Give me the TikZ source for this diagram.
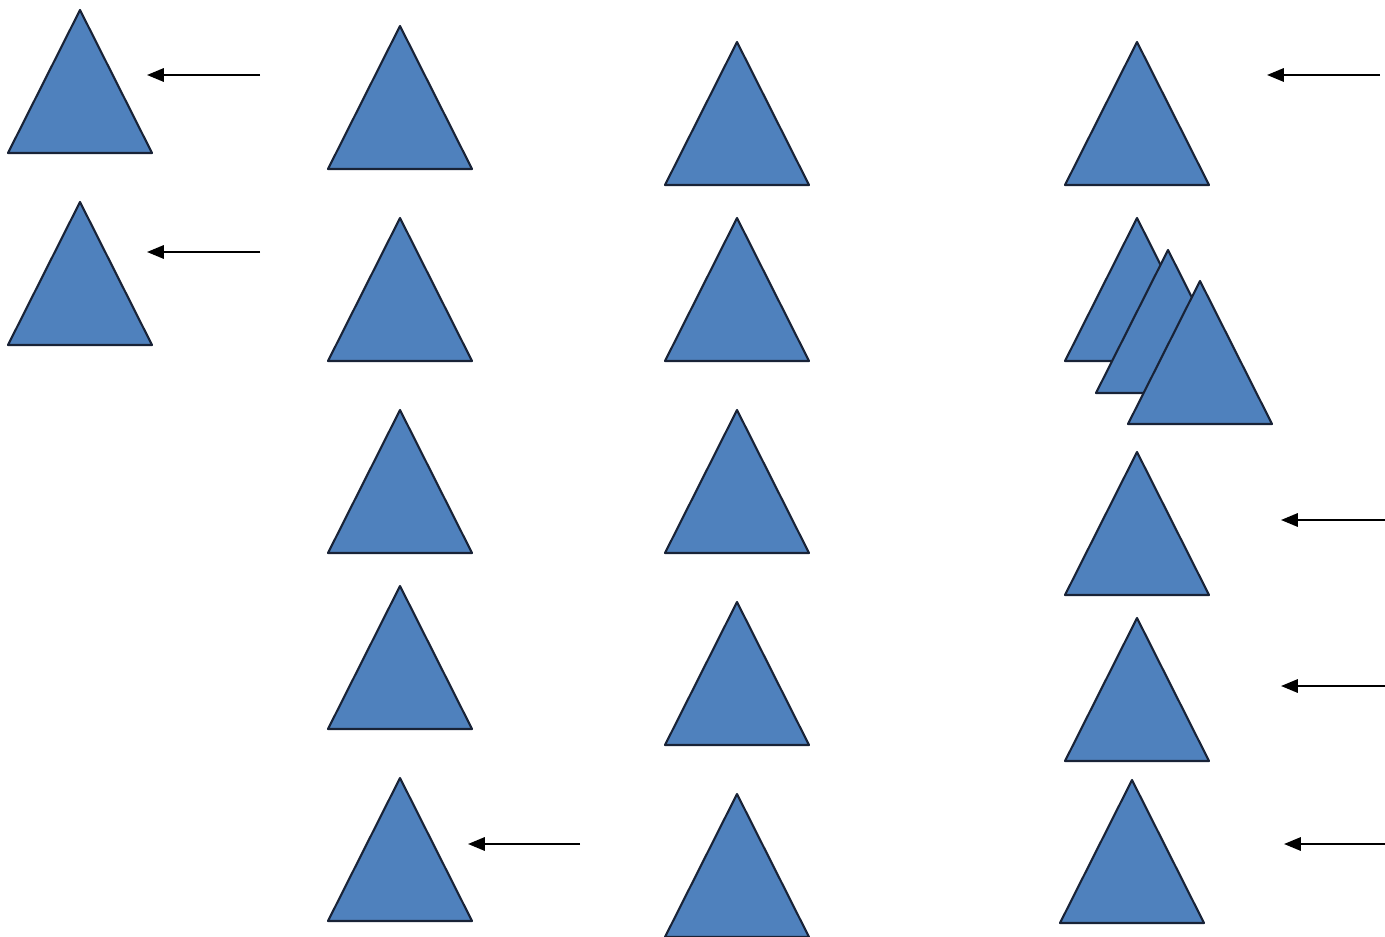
\documentclass[tikz,border=0pt]{standalone}
\usetikzlibrary{arrows.meta}
\definecolor{triblue}{RGB}{79,129,189}
\definecolor{triedge}{RGB}{25,35,55}
\tikzset{
  tri/.style={fill=triblue,draw=triedge,line width=0.6pt,line join=round},
  pointer/.style={-{Triangle[length=4.8pt,width=3.8pt]},line width=0.6pt,black}
}
% apex at (#1,#2), pixel units
\newcommand\triat[2]{\draw[tri] (#1,#2) -- ++(72,143) -- ++(-144,0) -- cycle;}
\begin{document}
\begin{tikzpicture}[x=0.01cm,y=-0.01cm]
    \useasboundingbox (0,0) rectangle (1385,937);

    % first column
    \foreach \ay in {10,202} {\triat{80}{\ay}}
    \draw[pointer] (260,75) -- (147,75);
    \draw[pointer] (260,252) -- (147,252);

    % second column
    \foreach \ay in {26,218,410,586,778} {\triat{400}{\ay}}
    \draw[pointer] (580,844) -- (468,844);

    % third column
    \foreach \ay in {42,218,410,602,794} {\triat{737}{\ay}}

    % fourth column
    \triat{1137}{42}
    \triat{1137}{218}
    \triat{1168}{250}
    \triat{1200}{281}
    \triat{1137}{452}
    \triat{1137}{618}
    \triat{1132}{780}
    \draw[pointer] (1380,75) -- (1267,75);
    \draw[pointer] (1385,520) -- (1281,520);
    \draw[pointer] (1385,686) -- (1281,686);
    \draw[pointer] (1385,844) -- (1284,844);
\end{tikzpicture}
\end{document}
